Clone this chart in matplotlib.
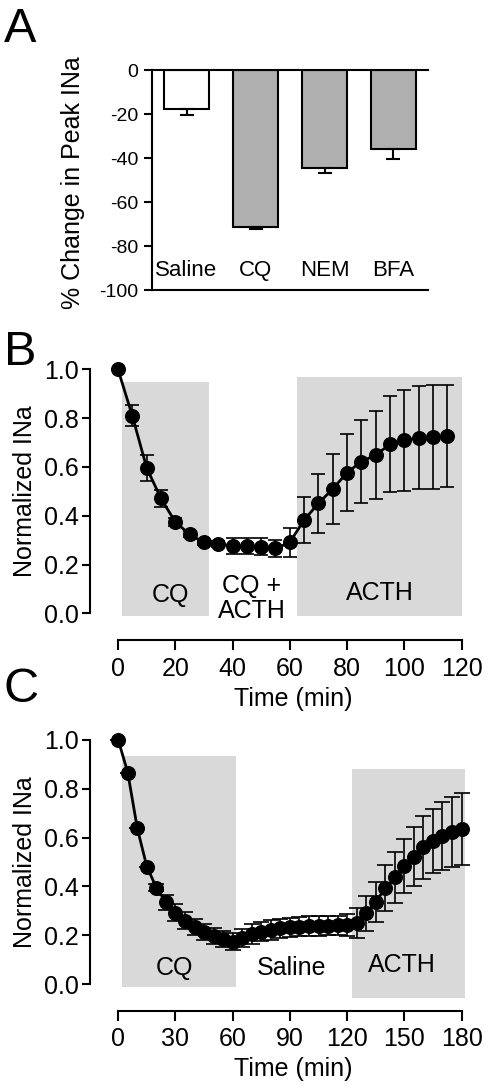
import matplotlib
matplotlib.use("Agg")
import matplotlib.pyplot as plt
from matplotlib.patches import Rectangle

plt.rcParams["font.family"] = ["Liberation Sans", "DejaVu Sans"]
plt.rcParams["axes.unicode_minus"] = False

# ---- panel A data ----
a_labels = ["Saline", "CQ", "NEM", "BFA"]
a_values = [-17.7, -71.2, -44.7, -35.9]
a_err = [2.9, 1.0, 2.0, 4.6]
a_colors = ["white", "#afafaf", "#afafaf", "#afafaf"]
a_yticks = [0, -20, -40, -60, -80, -100]

# ---- panel B data ----
b_time = [0, 5, 10, 15, 20, 25, 30, 35, 40, 45, 50, 55,
          60, 65, 70, 75, 80, 85, 90, 95, 100, 105, 110, 115]
b_mean = [1.0, 0.81, 0.597, 0.471, 0.375, 0.324, 0.291, 0.284, 0.277, 0.275, 0.273, 0.266,
          0.291, 0.383, 0.451, 0.51, 0.577, 0.622, 0.649, 0.693, 0.71, 0.72, 0.724, 0.727]
b_sem = [0.0, 0.043, 0.053, 0.034, 0.015, 0.012, 0.01, 0.012, 0.032, 0.033, 0.034, 0.036,
         0.06, 0.095, 0.12, 0.145, 0.157, 0.17, 0.18, 0.197, 0.207, 0.21, 0.213, 0.21]
# shaded periods: (t_start, t_end, y_low, y_high)
b_phases = [(1.5, 31.9, -0.011, 0.947), (62.6, 120.0, -0.011, 0.97)]
b_texts = [("CQ", 18.5, 0.075), ("CQ +\nACTH", 46.8, 0.06), ("ACTH", 91.5, 0.083)]

# ---- panel C data ----
c_time = list(range(0, 185, 5))
c_mean = [1.0, 0.866, 0.638, 0.481, 0.395, 0.335, 0.292, 0.26, 0.235, 0.214, 0.198, 0.183,
          0.173, 0.19, 0.205, 0.215, 0.222, 0.228, 0.232, 0.235, 0.237, 0.238, 0.239, 0.24,
          0.242, 0.25, 0.29, 0.337, 0.392, 0.437, 0.484, 0.522, 0.56, 0.587, 0.607, 0.622, 0.635]
c_sem = [0.0, 0.0, 0.0, 0.0, 0.015, 0.03, 0.035, 0.035, 0.033, 0.033, 0.033, 0.033,
         0.035, 0.037, 0.04, 0.04, 0.04, 0.04, 0.04, 0.04, 0.04, 0.04, 0.04, 0.04,
         0.045, 0.063, 0.072, 0.083, 0.094, 0.104, 0.111, 0.12, 0.128, 0.132, 0.14, 0.144, 0.149]
c_phases = [(2.1, 61.5, -0.011, 0.934), (122.7, 182.7, -0.055, 0.88)]
c_texts = [("CQ", 29.7, 0.066), ("Saline", 91.0, 0.066), ("ACTH", 148.6, 0.078)]

W, H = 489, 1091
fig = plt.figure(figsize=(W / 100, H / 100), dpi=100)


def px_axes(left, right, top, bottom):
    return fig.add_axes([left / W, 1 - bottom / H, (right - left) / W, (bottom - top) / H])


# ---------------- A ----------------
ax = px_axes(152, 428, 70, 290)
xa = list(range(len(a_labels)))
ax.bar(xa, a_values, width=0.66, color=a_colors, edgecolor="black", linewidth=1.5, zorder=2)
ax.errorbar(xa, a_values, yerr=[a_err, [0] * len(a_err)], fmt="none", ecolor="black",
            elinewidth=1.5, capsize=4.7, capthick=1.5, zorder=3)
for x, lab in zip(xa, a_labels):
    ax.text(x, -91, lab, ha="center", va="center", fontsize=16)
ax.set_xlim(-0.5, 3.5)
ax.set_ylim(-100, 0)
ax.set_yticks(a_yticks)
ax.set_xticks([])
ax.spines["right"].set_visible(False)
for s in ["left", "top", "bottom"]:
    ax.spines[s].set_linewidth(1.5)
ax.tick_params(axis="y", labelsize=14, width=1.5, length=6, pad=4)
ax.set_ylabel("% Change in Peak INa", fontsize=18)
ax.yaxis.set_label_coords(-0.243, 0.49)


def time_panel(ax, t, m, e, phases, texts, xlim, ylim, xticks, capsize):
    for (t0, t1, y0, y1) in phases:
        ax.add_patch(Rectangle((t0, y0), t1 - t0, y1 - y0, facecolor="#d9d9d9",
                               edgecolor="none", zorder=0))
    cont = ax.errorbar(t, m, yerr=e, fmt="-o", color="black", ms=9.8, lw=2.0,
                       elinewidth=1.2, capsize=capsize, capthick=1.2, zorder=3)
    for art in cont.get_children():
        art.set_clip_on(False)
    for lab, x, y in texts:
        ax.text(x, y, lab, ha="center", va="center", fontsize=18, linespacing=1.05, zorder=4)
    ax.set_xlim(*xlim)
    ax.set_ylim(*ylim)
    ax.set_xticks(xticks)
    ax.set_yticks([0, 0.2, 0.4, 0.6, 0.8, 1.0])
    ax.set_yticklabels(["%.1f" % v for v in [0, 0.2, 0.4, 0.6, 0.8, 1.0]])
    ax.spines["top"].set_visible(False)
    ax.spines["right"].set_visible(False)
    ax.spines["left"].set_bounds(0, 1.0)
    ax.spines["bottom"].set_bounds(xticks[0], xticks[-1])
    ax.spines["left"].set_linewidth(1.5)
    ax.spines["bottom"].set_linewidth(1.5)
    ax.tick_params(axis="y", labelsize=18, width=1.5, length=6, pad=2)
    ax.tick_params(axis="x", labelsize=18, width=1.5, length=7, pad=5)
    ax.set_ylabel("Normalized INa", fontsize=18)
    ax.set_xlabel("Time (min)", fontsize=18)


# ---------------- B ----------------
ax = px_axes(90, 465, 365, 640)
time_panel(ax, b_time, b_mean, b_sem, b_phases, b_texts,
           (-9.78, 121.2), (-0.109, 1.018), [0, 20, 40, 60, 80, 100, 120], 5)
ax.yaxis.set_label_coords(-0.14, 0.542)
ax.xaxis.set_label_coords(0.541, -0.171)

# ---------------- C ----------------
ax = px_axes(90, 465, 736, 1010.7)
time_panel(ax, c_time, c_mean, c_sem, c_phases, c_texts,
           (-14.8, 181.8), (-0.109, 1.016), [0, 30, 60, 90, 120, 150, 180], 6)
ax.yaxis.set_label_coords(-0.14, 0.541)
ax.xaxis.set_label_coords(0.541, -0.169)

for lab, ybase in [("A", 42), ("B", 365), ("C", 702)]:
    fig.text(4 / W, 1 - ybase / H, lab, fontsize=35, va="baseline", ha="left")

fig.savefig("out.png", dpi=100)
